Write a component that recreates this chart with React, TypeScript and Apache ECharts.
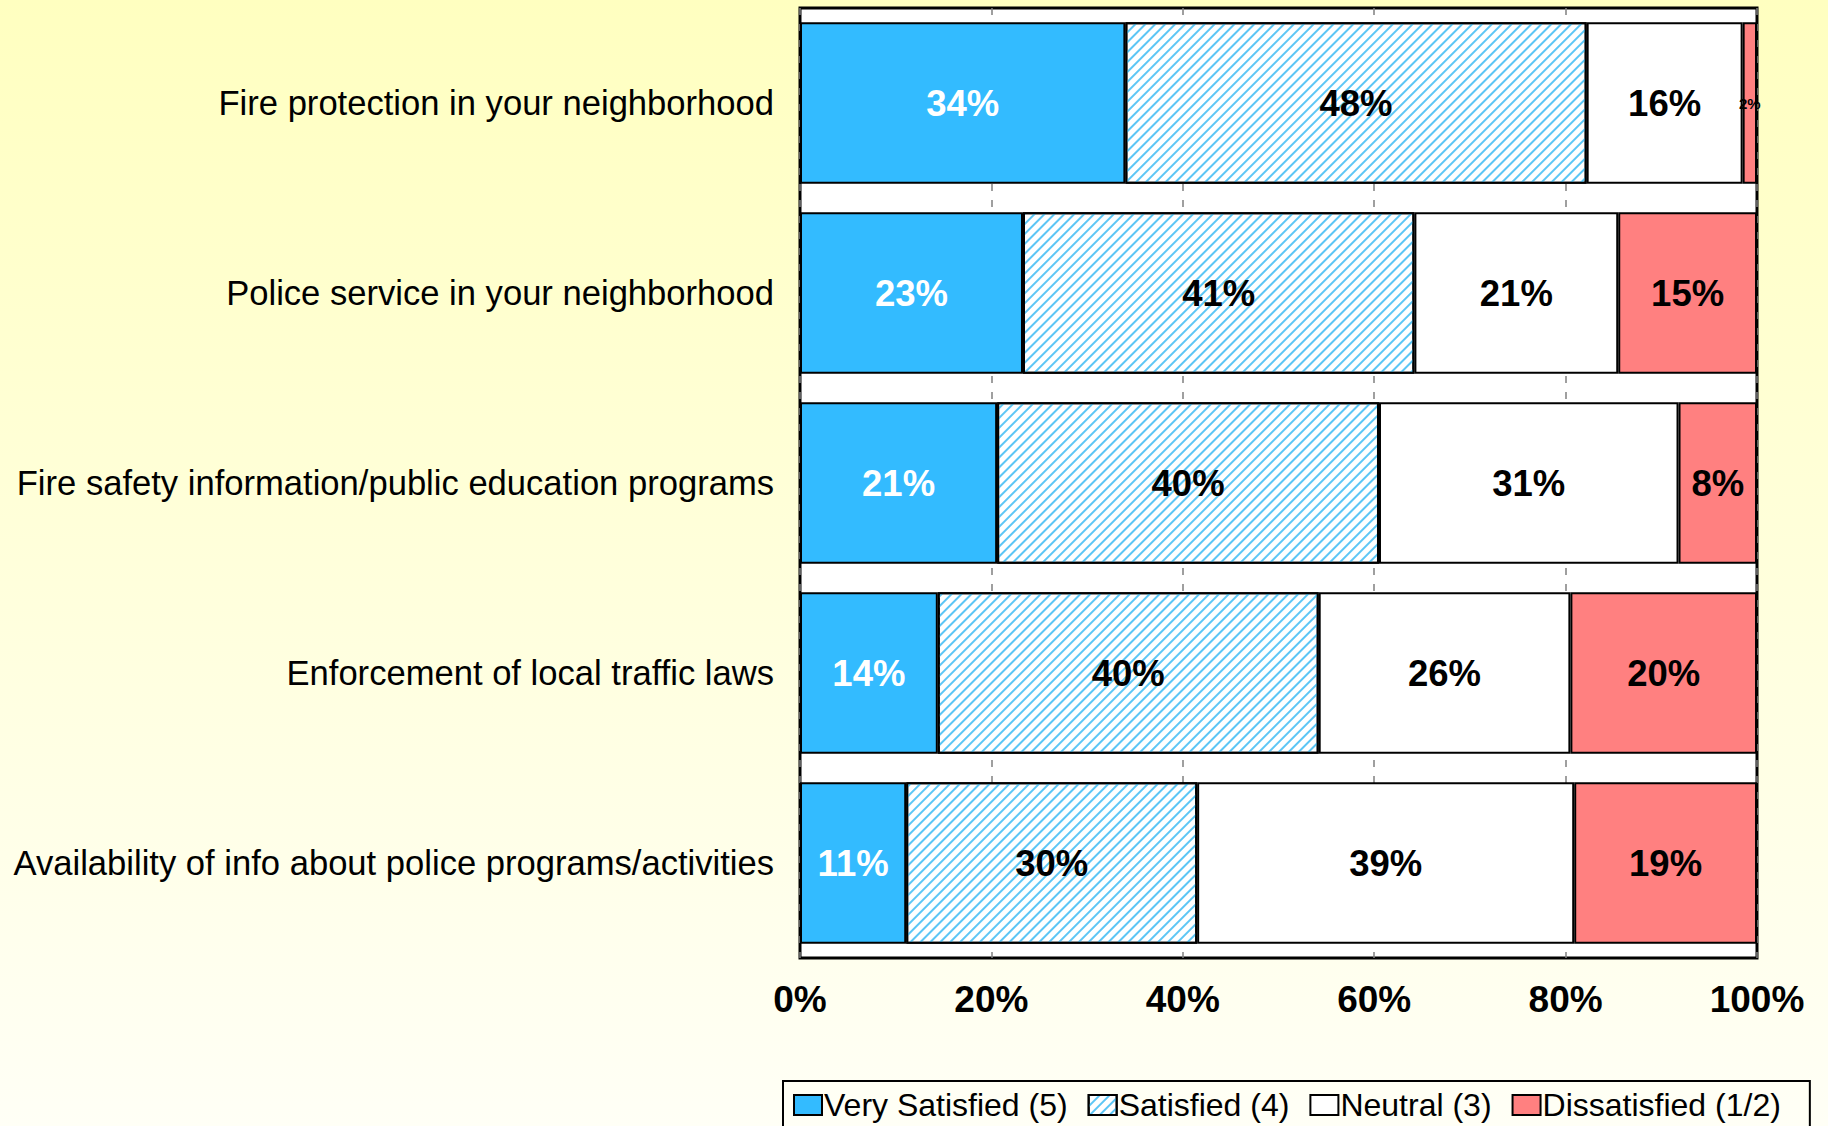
import React, { useEffect, useRef } from "react";
import * as echarts from "echarts";

const categories = [
  "Fire protection in your neighborhood",
  "Police service in your neighborhood",
  "Fire safety information/public education programs",
  "Enforcement of local traffic laws",
  "Availability of info about police programs/activities",
];
const seriesNames = ["Very Satisfied (5)", "Satisfied (4)", "Neutral (3)", "Dissatisfied (1/2)"];
const verySatisfied = [34.0, 23.3, 20.6, 14.4, 11.1];
const satisfied = [48.2, 40.9, 39.9, 39.8, 30.4];
const neutral = [16.3, 21.3, 31.3, 26.3, 39.4];
const dissatisfied = [1.5, 14.5, 8.2, 19.5, 19.1];
const xTicks = [0, 20, 40, 60, 80, 100];

const FONT = "'Liberation Sans', Arial, sans-serif";

export default function App() {
  const ref = useRef<HTMLDivElement>(null);
  useEffect(() => {
    if (!ref.current) return;
    const chart = echarts.init(ref.current, undefined, { renderer: "svg" });
    const label = (color: string) => ({
      show: true,
      position: "inside",
      color,
      fontFamily: FONT,
      fontWeight: "bold",
      fontSize: 36.5,
      formatter: (p: any) => Math.round(p.value) + "%",
    });
    const mkData = (arr: number[], color: string) =>
      arr.map((v) =>
        v < 5
          ? { value: v, label: { ...label(color), fontSize: 15 } }
          : { value: v }
      );
    const border = { borderColor: "#000", borderWidth: 2 };
    const option: any = {
      animation: false,
      backgroundColor: {
        type: "linear",
        x: 0,
        y: 0,
        x2: 0,
        y2: 1,
        colorStops: [
          { offset: 0, color: "#FFFFC0" },
          { offset: 1, color: "#FFFFF6" },
        ],
      },
      grid: {
        left: 800,
        top: 8,
        width: 957,
        height: 950,
        show: true,
        backgroundColor: "#fff",
        borderColor: "#000",
        borderWidth: 3,
      },
      xAxis: {
        type: "value",
        min: 0,
        max: 100,
        interval: 20,
        axisLine: { show: false },
        axisTick: { show: false },
        splitLine: {
          show: true,
          lineStyle: { color: "#808080", width: 1.5, type: [7, 9] },
        },
        axisLabel: {
          margin: 23,
          fontFamily: FONT,
          fontWeight: "bold",
          fontSize: 37,
          color: "#000",
          formatter: (v: number) => (xTicks.includes(v) ? v + "%" : ""),
        },
      },
      yAxis: {
        type: "category",
        data: categories,
        inverse: true,
        axisLine: { show: false },
        axisTick: { show: false },
        axisLabel: {
          margin: 26,
          fontFamily: FONT,
          fontSize: 34.6,
          color: "#000",
        },
      },
      legend: {
        left: 783,
        top: 1081,
        orient: "horizontal",
        data: seriesNames.map((n) => ({ name: n, icon: "rect" })),
        itemWidth: 28,
        itemHeight: 20,
        itemGap: 20,
        padding: [8, 29, 30, 10],
        borderColor: "#000",
        borderWidth: 2,
        itemStyle: { borderColor: "#000", borderWidth: 2 },
        textStyle: { fontFamily: FONT, fontSize: 32, color: "#000", padding: [0, 0, 0, -3] },
      },
      series: [
        {
          name: seriesNames[0],
          type: "bar",
          stack: "s",
          barCategoryGap: "15%",
          data: mkData(verySatisfied, "#fff"),
          itemStyle: { color: "#33BBFF", ...border },
          label: label("#fff"),
        },
        {
          name: seriesNames[1],
          type: "bar",
          stack: "s",
          data: mkData(satisfied, "#000"),
          itemStyle: {
            color: "#fff",
            ...border,
            decal: {
              symbol: "rect",
              symbolSize: 1,
              dashArrayX: [1, 0],
              dashArrayY: [1.4, 4.2],
              rotation: -Math.PI / 4,
              color: "#5CC6F5",
            },
          },
          label: label("#000"),
        },
        {
          name: seriesNames[2],
          type: "bar",
          stack: "s",
          data: mkData(neutral, "#000"),
          itemStyle: { color: "#fff", ...border },
          label: label("#000"),
        },
        {
          name: seriesNames[3],
          type: "bar",
          stack: "s",
          data: mkData(dissatisfied, "#000"),
          itemStyle: { color: "#FF8080", ...border },
          label: label("#000"),
        },
      ],
    };
    chart.setOption(option);
    return () => chart.dispose();
  }, []);
  return (
    <div
      ref={ref}
      style={{ position: "absolute", left: 0, top: 0, width: 1828, height: 1126 }}
    />
  );
}
